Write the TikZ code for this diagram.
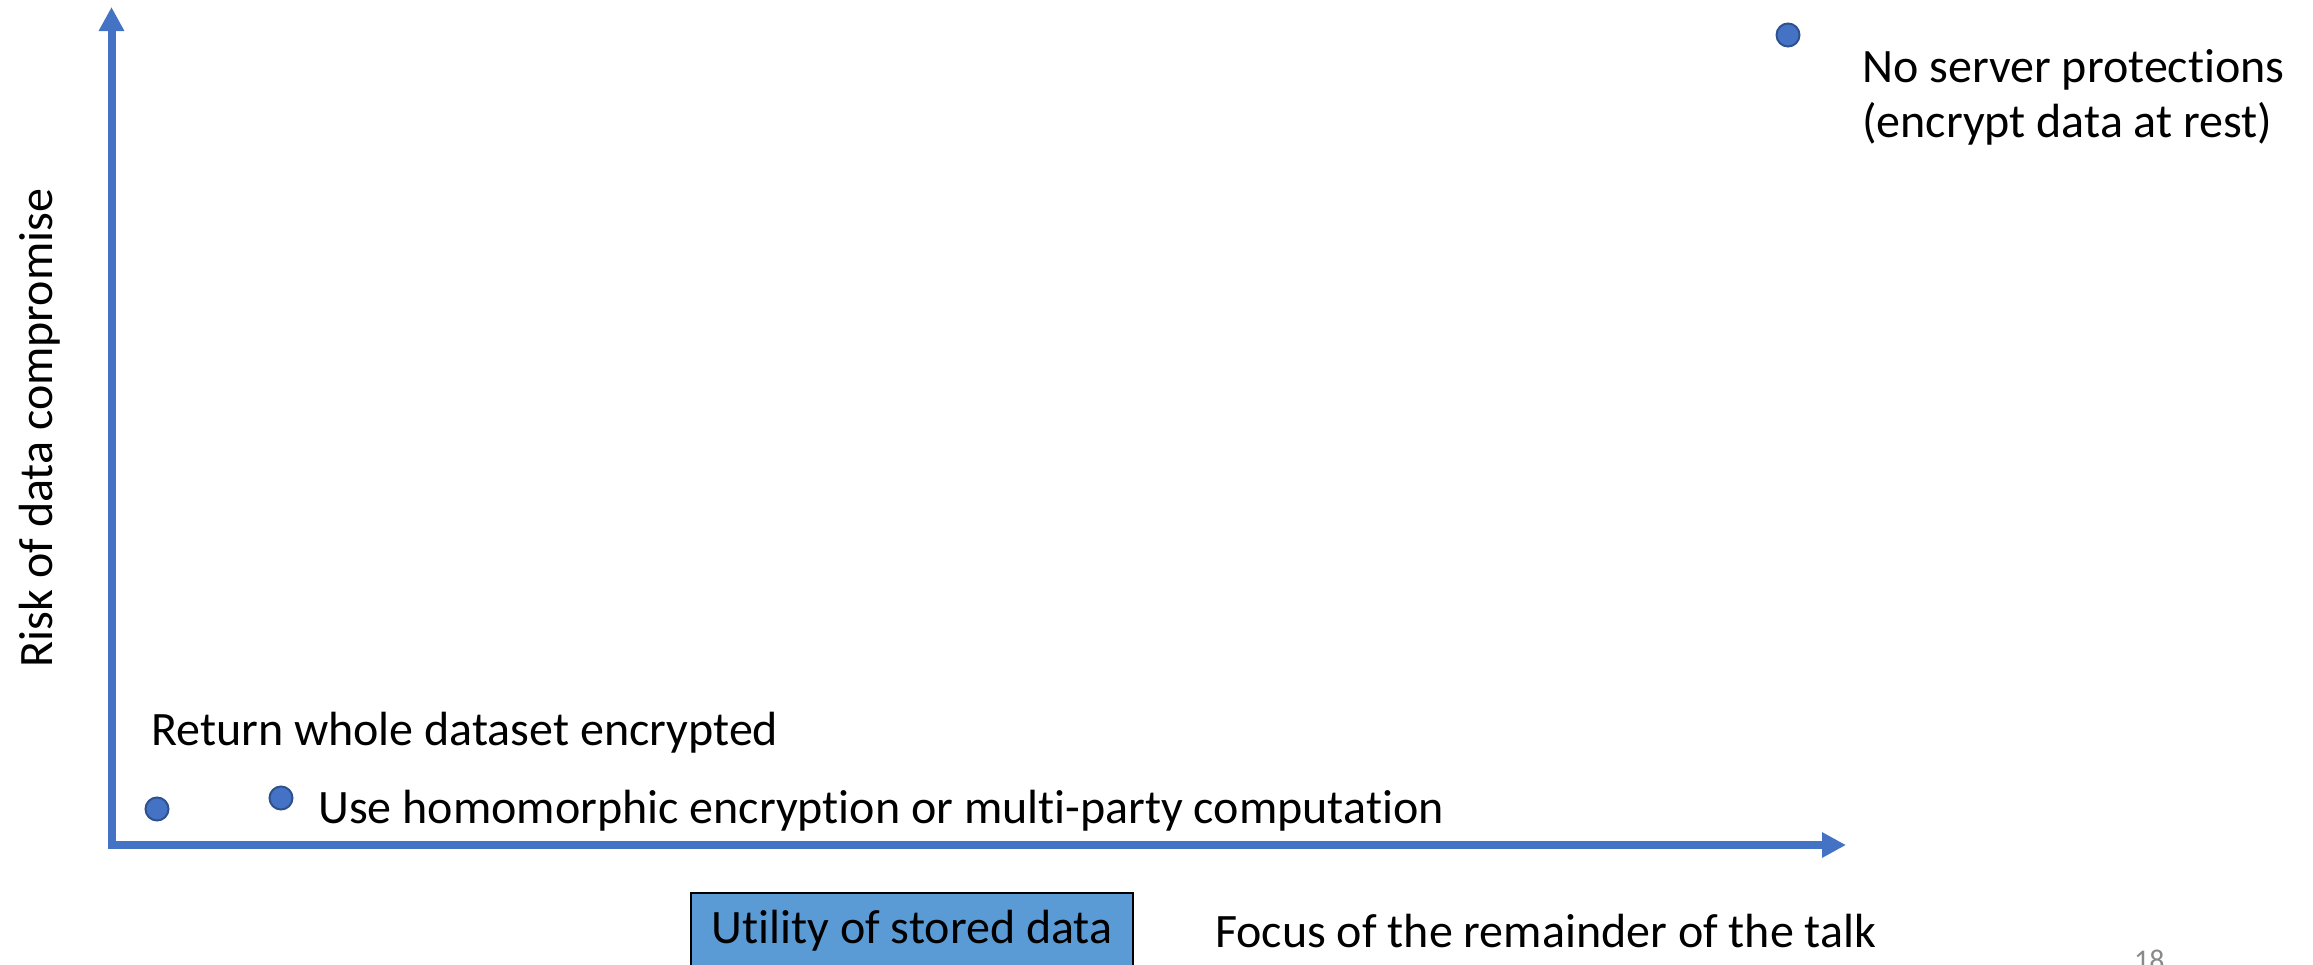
\documentclass[tikz,border=0pt]{standalone}
\usepackage{fontspec}
\setmainfont{Carlito}[Ligatures=NoCommon]
\usetikzlibrary{arrows.meta}
\definecolor{axisblue}{HTML}{4472C4}
\definecolor{dotedge}{HTML}{2F528F}
\definecolor{boxblue}{HTML}{5B9BD5}
\definecolor{pagegrey}{HTML}{898989}
\tikzset{
  axis/.style={draw=axisblue, line width=8pt,
    -{Triangle[length=24pt, width=24pt]}},
  point/.style={circle, fill=axisblue, draw=dotedge, line width=2pt,
    minimum size=23pt, inner sep=0pt},
  bodyfont/.style={font=\fontsize{48}{58}\selectfont},
  label/.style={anchor=base west, inner sep=0pt, bodyfont},
}
\begin{document}
\begin{tikzpicture}[x=1pt, y=-1pt]
  \useasboundingbox (0,0) rectangle (2313,964);

  % axes
  \coordinate (vbase) at (111.5,849);
  \coordinate (ytip)  at (111.5,7);
  \coordinate (hbase) at (107.5,845);
  \coordinate (xtip)  at (1846,845);
  \draw[axis] (vbase) -- (ytip);
  \draw[axis] (hbase) -- (xtip);

  % axis titles
  \node[anchor=base, rotate=90, inner sep=0pt, bodyfont] (ylab) at (52,428)
        {Risk of data compromise};
  \node[anchor=north, draw=black, line width=2pt, fill=boxblue,
        minimum width=442pt, inner sep=0pt, text height=50pt,
        text depth=28pt, bodyfont]
        (xlab) at (912,892) {Utility of stored data};
  \node[label] (focus) at (1215,947) {Focus of the remainder of the talk};

  % data points
  \node[point] (p1) at (157,809) {};
  \node[point] (p2) at (281,798) {};
  \node[point] (p3) at (1788,35) {};

  % point labels
  \node[label] (ret) at (151,745) {Return whole dataset encrypted};
  \node[label] (hom) at (318,823) {Use homomorphic encryption or multi-party computation};
  \node[label] (nsp1) at (1862,82) {No server protections};
  \node[label] (nsp2) at (1862,137) {(encrypt data at rest)};

  % slide number
  \node[anchor=base west, inner sep=0pt, text=pagegrey,
        font=\fontsize{30}{36}\selectfont] (pg) at (2134,970) {18};
\end{tikzpicture}
\end{document}
